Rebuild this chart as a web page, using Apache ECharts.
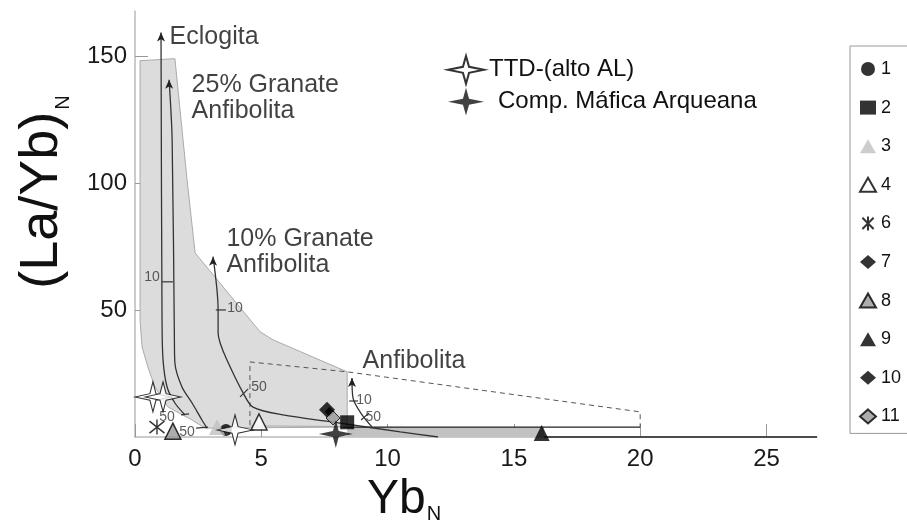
<!DOCTYPE html>
<html><head><meta charset="utf-8">
<script src="https://cdn.jsdelivr.net/npm/echarts@6/dist/echarts.min.js"></script>
<style>html,body{margin:0;padding:0;background:#fff}#c{width:907px;height:522px}</style>
</head><body><div id="c"></div>
<script>
const FF = 'Liberation Sans, Arial, sans-serif';
const xTickValues = [0, 5, 10, 15, 20, 25];
const yTickValues = [50, 100, 150];

// samples
const s1 = [[3.6, 2.8]];
const s2 = [[8.4, 5.8]];
const s3 = [[3.25, 3.9]];
const s4 = [[4.91, 5.9]];
const s6 = [[0.87, 3.9]];
const s7 = [[7.6, 10.7]];
const s8 = [[1.5, 2.3]];
const s9 = [[16.1, 1.6]];
const s10 = [[7.7, 10.0]];
const s11 = [[7.84, 7.5]];
const ttd = [[0.71, 15.8], [1.11, 15.8], [3.96, 2.8]];
const mafica = [[7.95, 1.2]];

// fields
const garnetField = [[0.2,148.4],[1.58,149.2],[2.06,101.5],[2.38,72.6],[4.95,41.5],[5.47,38.3],[8.4,25.7],[8.4,3.9],[2.77,3.5],[2.26,6.7],[1.31,11.8],[0.79,19.7],[0.51,27.6],[0.28,35.5],[0.2,46.2]];
const stripField = [[8.4,0],[16.2,0],[16.2,3.9],[8.4,3.9]];
const anfDashed = [[4.55,4.7],[4.55,29.6],[8.4,25.7],[20,9.9],[20,3.9]];
const anfBase = [[8.24,3.9],[20,3.9]];
const anfBaseLeft = [[4.55,4.4],[8.4,4.1]];
const axisDark = [[16.2,0],[27,0]];

// melting curves (bottom -> tip)
const eclogite = [[1.98,8.7],[1.58,13.4],[1.27,19.7],[1.11,30.4],[1.07,46.2],[1.03,159.5]];
const granate25 = [[2.85,3.5],[2.65,6.7],[2.26,13.4],[1.86,19.7],[1.58,29.2],[1.56,38.3],[1.47,117.3],[1.35,140.9]];
const granate10 = [[12,0],[10.5,2],[7.84,5.9],[5.86,8.7],[4.67,11.8],[4.28,17.4],[3.64,30.4],[3.37,37.1],[3.29,41.1],[3.29,50.1],[3.09,71.1]];
const anfibolita = [[9.39,3.9],[8.99,8.7],[8.63,15.4],[8.59,23.3]];

// melt % tick marks [x1,y1,x2,y2]
const meltTicks = [[1.07,61.2,1.5,61.2],[3.2,50.1,3.6,50.1],[4.16,15.8,4.48,19],[8.48,14.2,8.83,14.2],[8.95,6.7,9.27,9.5],[1.82,8.7,2.14,9.1],[2.42,3.5,2.89,3.9]];
const meltLabels = [[0.67,63,'10'],[3.96,50.9,'10'],[4.91,19.7,'50'],[9.07,14.6,'10'],[9.43,7.9,'50'],[1.27,7.9,'50'],[2.06,2,'50']];
const fieldLabels = [[1.39,157.5,'Eclogita'],[2.26,133.4,'25% Granate\nAnfibolita'],[3.64,72.6,'10% Granate\nAnfibolita'],[9.03,29.6,'Anfibolita']];

const starPath = 'path://M0,-10 L2.2,-2.2 L13,0 L2.2,2.2 L0,10 L-2.2,2.2 L-13,0 L-2.2,-2.2 Z';
const asteriskPath = 'path://M-8,-8 L8,8 M-8,8 L8,-8 M0,-10 L0,10';

function polygonSeries(pts, style, z, type) {
  return {
    type: 'custom', data: pts, z: z, silent: true, clip: false,
    encode: {x: 0, y: 1},
    renderItem: function (p, api) {
      if (p.dataIndex !== 0) return null;
      return {type: type || 'polygon', shape: {points: pts.map(q => api.coord(q))}, style: style};
    }
  };
}
function curve(pts) {
  return {
    type: 'line', data: pts.map((p, i) => i === pts.length - 1 ? {value: p} : {value: p, symbol: 'none'}),
    symbol: 'arrow', symbolSize: [6, 9], showSymbol: true, smooth: 0.3, z: 4, silent: true,
    lineStyle: {color: '#333', width: 1.3}, itemStyle: {color: '#222'}, animation: false
  };
}
function pts(name, data, symbol, size, style) {
  return {name: name, type: 'scatter', data: data, symbol: symbol, symbolSize: size, itemStyle: style, z: 6};
}

const chart = echarts.init(document.getElementById('c'));
chart.setOption({
  animation: false,
  textStyle: {fontFamily: FF},
  grid: {left: 135, right: 90, top: 11, bottom: 85, outerBoundsMode: 'none'},
  xAxis: {
    type: 'value', min: 0, max: 27, interval: 5,
    axisLine: {lineStyle: {color: '#bbb', width: 1.5}},
    axisTick: {inside: true, length: 13, lineStyle: {color: '#999'}, customValues: xTickValues},
    axisLabel: {fontSize: 24, color: '#1a1a1a', margin: 10, fontFamily: FF, customValues: xTickValues},
    splitLine: {show: false}
  },
  yAxis: {
    type: 'value', min: 0, max: 168, interval: 50,
    axisLine: {show: true, lineStyle: {color: '#bbb', width: 1.5}},
    axisTick: {show: true, inside: true, length: 13, lineStyle: {color: '#999'}, customValues: yTickValues},
    axisLabel: {fontSize: 24, color: '#1a1a1a', margin: 8, fontFamily: FF, customValues: yTickValues},
    splitLine: {show: false}
  },
  legend: [{
    data: ['1','2','3','4','6','7','8','9','10','11'],
    orient: 'vertical', left: 850, top: 46, itemWidth: 16, itemHeight: 14, itemGap: 20.6,
    padding: [14, 40, 8, 9], borderColor: '#999', borderWidth: 1, selectedMode: false,
    textStyle: {fontSize: 18, color: '#111', fontFamily: FF}
  }, {
    data: [{name: 'TTD-(alto AL)'}, {name: 'Comp. Máfica Arqueana', textStyle: {padding: [0, 0, 0, 9]}}],
    orient: 'vertical', left: 447, top: 55, itemWidth: 36, itemHeight: 28, itemGap: 3, padding: 0,
    selectedMode: false, textStyle: {fontSize: 24, color: '#111', lineHeight: 28, fontFamily: FF}
  }],
  graphic: [{
    type: 'text', x: 42, y: 192, rotation: Math.PI / 2,
    style: {
      text: '{a|(La/Yb)}{b|N}', textAlign: 'center', textVerticalAlign: 'middle',
      rich: {a: {fontSize: 54, lineHeight: 54, fill: '#111', fontFamily: FF, verticalAlign: 'top'},
             b: {fontSize: 20, lineHeight: 20, padding: [38, 0, 0, 2], fill: '#111', fontFamily: FF, verticalAlign: 'top'}}
    }
  }, {
    type: 'text', x: 367, y: 476,
    style: {
      text: '{a|Yb}{b|N}', textAlign: 'left', textVerticalAlign: 'top',
      rich: {a: {fontSize: 48, lineHeight: 48, fill: '#111', fontFamily: FF, verticalAlign: 'top'},
             b: {fontSize: 20, lineHeight: 20, padding: [28, 0, 0, 1], fill: '#111', fontFamily: FF, verticalAlign: 'top'}}
    }
  }],
  series: [
    polygonSeries(garnetField, {fill: '#dcdcdc', stroke: '#aaa', lineWidth: 1}, 1),
    polygonSeries(stripField, {fill: '#c2c2c2', stroke: null}, 1),
    polygonSeries(anfDashed, {fill: 'none', stroke: '#555', lineWidth: 1, lineDash: [5, 4]}, 2, 'polyline'),
    polygonSeries(anfBase, {fill: 'none', stroke: '#222', lineWidth: 1.2}, 2, 'polyline'),
    polygonSeries(anfBaseLeft, {fill: 'none', stroke: '#aaa', lineWidth: 1}, 2, 'polyline'),
    polygonSeries(axisDark, {fill: 'none', stroke: '#222', lineWidth: 1.5}, 2, 'polyline'),
    curve(eclogite), curve(granate25), curve(granate10), curve(anfibolita),
    {
      type: 'custom', data: meltTicks, z: 4, silent: true, encode: {x: [0, 2], y: [1, 3]},
      renderItem: function (p, api) {
        const a = api.coord([api.value(0), api.value(1)]);
        const b = api.coord([api.value(2), api.value(3)]);
        return {type: 'line', shape: {x1: a[0], y1: a[1], x2: b[0], y2: b[1]}, style: {stroke: '#333', lineWidth: 1.2}};
      }
    },
    {
      type: 'scatter', data: meltLabels, symbolSize: 1, itemStyle: {color: 'transparent'}, z: 5, silent: true,
      label: {show: true, position: 'inside', formatter: p => p.data[2], fontSize: 14, color: '#333', fontFamily: FF}
    },
    {
      type: 'scatter', data: fieldLabels, symbolSize: 1, itemStyle: {color: 'transparent'}, z: 5, silent: true,
      label: {show: true, position: [0, 0], align: 'left', verticalAlign: 'middle', formatter: p => p.data[2],
              fontSize: 25, lineHeight: 26, color: '#111', fontFamily: FF}
    },
    pts('1', s1, 'circle', 12, {color: '#000'}),
    pts('2', s2, 'rect', 14, {color: '#000'}),
    pts('3', s3, 'triangle', 16, {color: '#c0c0c0'}),
    pts('4', s4, 'triangle', 16, {color: '#fff', borderColor: '#000', borderWidth: 1.5}),
    pts('6', s6, asteriskPath, 15, {color: '#000', borderColor: '#000', borderWidth: 1.4}),
    pts('7', s7, 'diamond', 16, {color: '#000'}),
    pts('8', s8, 'triangle', 16, {color: '#999', borderColor: '#000', borderWidth: 1.5}),
    pts('9', s9, 'triangle', 16, {color: '#000'}),
    pts('10', s10, 'diamond', 10, {color: '#000'}),
    pts('11', s11, 'diamond', 14, {color: '#999', borderColor: '#000', borderWidth: 1}),
    pts('TTD-(alto AL)', ttd, starPath, [36, 30], {color: '#fff', borderColor: '#000', borderWidth: 1}),
    pts('Comp. Máfica Arqueana', mafica, starPath, [34, 28], {color: '#111'})
  ]
});
</script></body></html>
